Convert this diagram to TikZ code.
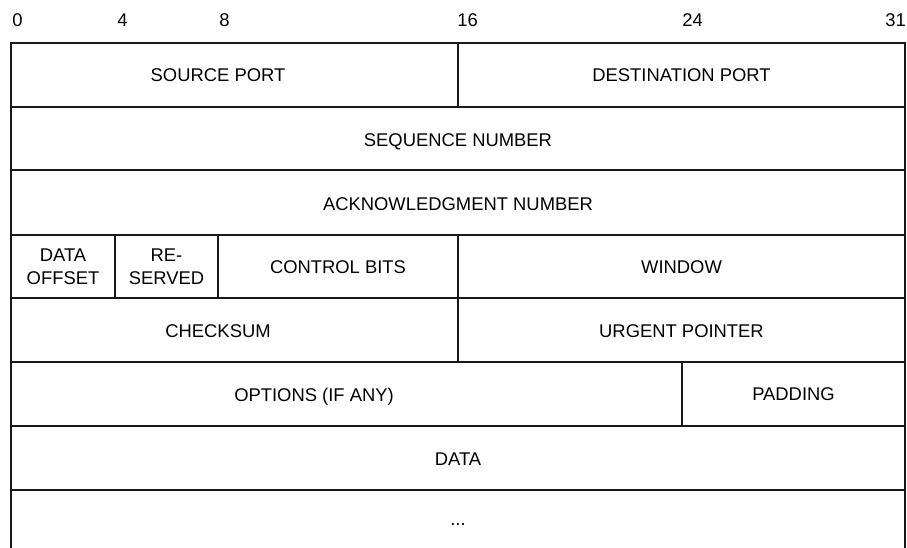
\documentclass[tikz,border=0pt]{standalone}
\usepackage{fontspec}
\setmainfont{Liberation Sans}
\begin{document}
\begin{tikzpicture}[x=0.75pt,y=-0.75pt,
  grid/.style={line width=1.6pt,draw=black!90},
  lbl/.style={font=\fontsize{13.8}{17.2}\selectfont,inner sep=0pt,align=center,text depth=0pt},
  bitnum/.style={font=\fontsize{13.8}{16}\selectfont,inner sep=0pt,anchor=west}]
\useasboundingbox (0,0) rectangle (907,548);
% bit numbers
\node[bitnum] (b0) at (12,20) {0};
\node[bitnum] (b4) at (117,20) {4};
\node[bitnum] (b8) at (219,20) {8};
\node[bitnum] (b16) at (457,20) {16};
\node[bitnum] (b24) at (682,20) {24};
\node[bitnum,anchor=east] (b31) at (906,20) {31};
% outer frame
\draw[grid] (11,548) -- (11,43) -- (905,43) -- (905,548);
% horizontal lines
\foreach \yy in {107,170,235,298,362,426,490}
  \draw[grid] (11,\yy) -- (905,\yy);
% vertical lines
\draw[grid] (458,43) -- (458,107);
\draw[grid] (115,235) -- (115,298);
\draw[grid] (218,235) -- (218,298);
\draw[grid] (458,235) -- (458,362);
\draw[grid] (682,362) -- (682,426);
% labels
\node[lbl] (sp) at (218,75.5) {SOURCE PORT};
\node[lbl] (dp) at (681.5,75.5) {DESTINATION PORT};
\node[lbl] (sn) at (458,140) {SEQUENCE NUMBER};
\node[lbl] (an) at (458,204) {ACKNOWLEDGMENT NUMBER};
\node[lbl] (do) at (63,267) {DATA\\OFFSET};
\node[lbl] (rs) at (166.5,267) {RE-\\SERVED};
\node[lbl] (cb) at (338,267) {CONTROL BITS};
\node[lbl] (wn) at (681.5,267) {WINDOW};
\node[lbl] (cs) at (218,331) {CHECKSUM};
\node[lbl] (up) at (681.5,331) {URGENT POINTER};
\node[lbl] (op) at (314,394.5) {OPTIONS (IF ANY)};
\node[lbl] (pd) at (793.5,394.5) {PADDING};
\node[lbl] (dt) at (458,459) {DATA};
\node[lbl] (el) at (458,525) {...};
\end{tikzpicture}
\end{document}
